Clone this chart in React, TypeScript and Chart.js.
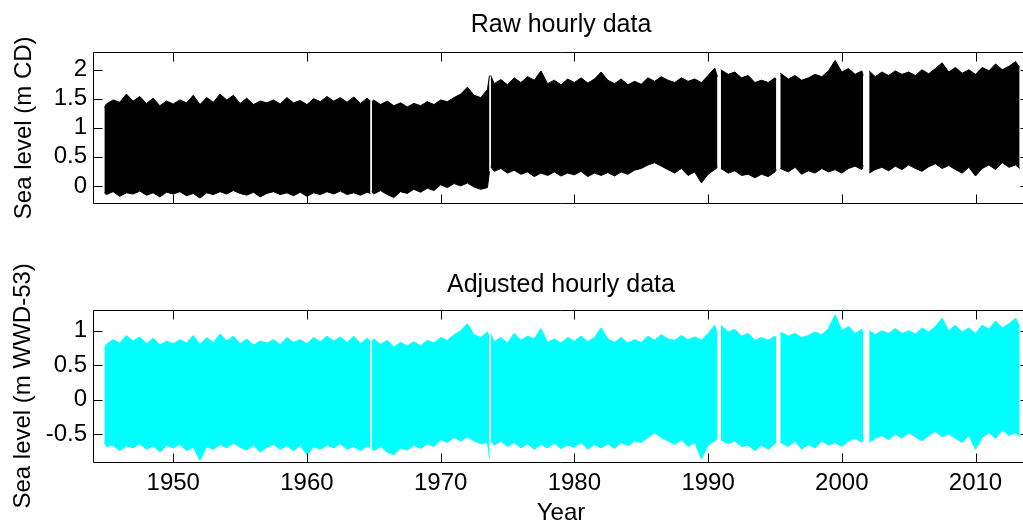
import React, { useEffect, useRef } from 'react';
import { Chart, registerables } from 'chart.js';

Chart.register(...registerables);

// Sample times (decimal years) of the envelope readings
const years: number[] = [
  // 1944.85 – 1964.75
  1944.85, 1945, 1945.5, 1946, 1946.5, 1947, 1947.5, 1948, 1948.5, 1949, 1949.5,
  1950, 1950.5, 1951, 1951.5, 1952, 1952.5, 1953, 1953.5, 1954, 1954.5,
  1955, 1955.5, 1956, 1956.5, 1957, 1957.5, 1958, 1958.5, 1959, 1959.5,
  1960, 1960.5, 1961, 1961.5, 1962, 1962.5, 1963, 1963.5, 1964, 1964.5, 1964.75,
  // 1964.85 – 1973.65
  1964.85, 1965, 1965.5, 1966, 1966.5, 1967, 1967.5, 1968, 1968.5, 1969, 1969.5,
  1970, 1970.5, 1971, 1971.5, 1972, 1972.5, 1973, 1973.5, 1973.65,
  // 1973.75 – 1990.7
  1973.75, 1974, 1974.5, 1975, 1975.5, 1976, 1976.5, 1977, 1977.5, 1978, 1978.5,
  1979, 1979.5, 1980, 1980.5, 1981, 1981.5, 1982, 1982.5, 1983, 1983.5,
  1984, 1984.5, 1985, 1985.5, 1986, 1986.5, 1987, 1987.5, 1988, 1988.5,
  1989, 1989.5, 1990, 1990.5, 1990.7,
  // 1990.95 – 1995.1
  1990.95, 1991.5, 1992, 1992.5, 1993, 1993.5, 1994, 1994.5, 1995, 1995.1,
  // 1995.4 – 2001.6
  1995.4, 1996, 1996.5, 1997, 1997.5, 1998, 1998.5, 1999, 1999.5, 2000, 2000.5,
  2001, 2001.5, 2001.6,
  // 2002.05 – 2013.3
  2002.05, 2002.5, 2003, 2003.5, 2004, 2004.5, 2005, 2005.5, 2006, 2006.5,
  2007, 2007.5, 2008, 2008.5, 2009, 2009.5, 2010, 2010.5, 2011, 2011.5,
  2012, 2012.5, 2013, 2013.3,
];

// Times of the data gaps (no record)
const gapYears: number[] = [1964.8, 1973.7, 1990.82, 1995.25, 2001.8];

// Raw hourly data: upper and lower envelope (m CD)
const rawHigh: number[] = [
  1.35, 1.41, 1.48, 1.44, 1.58, 1.46, 1.54, 1.42, 1.51, 1.38, 1.46, 1.41, 1.48, 1.43, 1.56, 1.40,
  1.52, 1.44, 1.58, 1.48, 1.56, 1.42, 1.51, 1.40, 1.46, 1.43, 1.48, 1.41, 1.52, 1.43, 1.47, 1.40,
  1.50, 1.45, 1.54, 1.46, 1.52, 1.44, 1.53, 1.42, 1.51, 1.46,
  1.45, 1.48, 1.40, 1.46, 1.38, 1.43, 1.36, 1.42, 1.38, 1.45, 1.40, 1.48, 1.45, 1.52, 1.58, 1.70,
  1.56, 1.52, 1.66, 1.90,
  1.90, 1.76, 1.83, 1.74, 1.86, 1.78, 1.88, 1.82, 1.98, 1.76, 1.82, 1.74, 1.84, 1.78, 1.86, 1.77,
  1.84, 1.96, 1.82, 1.76, 1.84, 1.74, 1.80, 1.75, 1.86, 1.80, 1.88, 1.82, 1.78, 1.86, 1.80, 1.84,
  1.78, 1.90, 2.03, 1.88,
  2.00, 1.92, 1.96, 1.86, 1.90, 1.78, 1.82, 1.78, 1.86, 1.84,
  1.94, 1.84, 1.90, 1.82, 1.86, 1.92, 1.88, 1.98, 2.16, 1.96, 2.02, 1.92, 1.98, 1.90,
  1.98, 1.88, 1.96, 1.90, 1.98, 1.92, 1.96, 1.90, 2.00, 1.93, 2.02, 2.12, 1.96, 2.04, 1.94, 2.00,
  1.92, 2.04, 1.98, 2.10, 2.00, 2.06, 2.14, 2.04,
];
const rawLow: number[] = [
  -0.12, -0.15, -0.10, -0.18, -0.12, -0.14, -0.09, -0.16, -0.12, -0.19, -0.11, -0.14, -0.10, -0.17,
  -0.13, -0.21, -0.12, -0.15, -0.10, -0.14, -0.08, -0.13, -0.16, -0.11, -0.19, -0.13, -0.10, -0.15,
  -0.12, -0.17, -0.11, -0.18, -0.12, -0.15, -0.10, -0.14, -0.09, -0.15, -0.12, -0.16, -0.11, -0.13,
  -0.10, -0.14, -0.08, -0.15, -0.20, -0.10, -0.13, -0.06, -0.11, -0.04, -0.08, 0.02, -0.03, 0.04,
  0.00, 0.05, -0.02, -0.06, -0.03, 0.25,
  0.33, 0.25, 0.30, 0.22, 0.27, 0.20, 0.24, 0.16, 0.22, 0.18, 0.24, 0.17, 0.22, 0.19, 0.25, 0.16,
  0.22, 0.18, 0.23, 0.17, 0.24, 0.20, 0.27, 0.30, 0.36, 0.40, 0.34, 0.28, 0.22, 0.30, 0.18, 0.24,
  0.05, 0.20, 0.28, 0.32,
  0.30, 0.22, 0.26, 0.18, 0.20, 0.14, 0.20, 0.16, 0.24, 0.28,
  0.30, 0.24, 0.32, 0.20, 0.26, 0.22, 0.30, 0.24, 0.28, 0.22, 0.30, 0.34, 0.28, 0.35,
  0.22, 0.28, 0.32, 0.26, 0.34, 0.28, 0.36, 0.30, 0.25, 0.33, 0.38, 0.30, 0.35, 0.28, 0.22, 0.32,
  0.17, 0.30, 0.36, 0.28, 0.40, 0.32, 0.36, 0.30,
];

// Adjusted hourly data: upper and lower envelope (m WWD-53)
const adjHigh: number[] = [
  0.74, 0.80, 0.87, 0.82, 0.93, 0.85, 0.91, 0.81, 0.89, 0.79, 0.85, 0.81, 0.87, 0.82, 0.93, 0.80,
  0.90, 0.83, 0.95, 0.85, 0.92, 0.81, 0.88, 0.79, 0.85, 0.82, 0.87, 0.80, 0.90, 0.83, 0.87, 0.81,
  0.90, 0.84, 0.92, 0.85, 0.91, 0.83, 0.92, 0.81, 0.89, 0.85,
  0.84, 0.88, 0.80, 0.86, 0.76, 0.83, 0.78, 0.84, 0.78, 0.86, 0.82, 0.90, 0.86, 0.94, 1.00, 1.10,
  0.94, 0.90, 0.98, 0.90,
  0.95, 0.84, 0.90, 0.82, 0.96, 0.86, 0.92, 0.88, 1.03, 0.83, 0.88, 0.82, 0.90, 0.85, 0.92, 0.84,
  0.90, 1.04, 0.88, 0.83, 0.90, 0.82, 0.87, 0.83, 0.92, 0.86, 0.94, 0.88, 0.86, 0.93, 0.87, 0.91,
  0.86, 0.96, 1.08, 0.94,
  1.08, 0.98, 1.02, 0.92, 0.96, 0.86, 0.90, 0.86, 0.92, 0.90,
  0.98, 0.92, 0.96, 0.90, 0.93, 0.98, 0.94, 1.03, 1.23, 1.00, 1.06, 0.96, 1.02, 0.96,
  1.00, 0.94, 1.00, 0.96, 1.03, 0.96, 1.00, 0.95, 1.04, 0.98, 1.06, 1.18, 1.00, 1.08, 0.98, 1.04,
  0.96, 1.08, 1.02, 1.14, 1.04, 1.10, 1.18, 1.06,
];
const adjLow: number[] = [
  -0.62, -0.68, -0.66, -0.74, -0.67, -0.70, -0.64, -0.72, -0.67, -0.76, -0.66, -0.70, -0.65, -0.74,
  -0.69, -0.88, -0.68, -0.72, -0.65, -0.70, -0.63, -0.69, -0.73, -0.66, -0.76, -0.69, -0.65, -0.72,
  -0.67, -0.74, -0.66, -0.80, -0.68, -0.72, -0.66, -0.70, -0.64, -0.72, -0.68, -0.74, -0.67, -0.70,
  -0.70, -0.74, -0.68, -0.76, -0.80, -0.70, -0.73, -0.66, -0.71, -0.64, -0.68, -0.58, -0.62, -0.55,
  -0.60, -0.54, -0.60, -0.64, -0.62, -0.84,
  -0.60, -0.66, -0.60, -0.68, -0.62, -0.70, -0.64, -0.72, -0.65, -0.70, -0.63, -0.71, -0.66, -0.69,
  -0.62, -0.72, -0.65, -0.70, -0.64, -0.71, -0.62, -0.67, -0.60, -0.62, -0.55, -0.48, -0.55, -0.60,
  -0.65, -0.58, -0.68, -0.62, -0.86, -0.66, -0.60, -0.56,
  -0.58, -0.64, -0.60, -0.68, -0.66, -0.74, -0.66, -0.72, -0.64, -0.60,
  -0.62, -0.68, -0.60, -0.72, -0.65, -0.70, -0.60, -0.66, -0.62, -0.68, -0.60, -0.56, -0.62, -0.55,
  -0.62, -0.56, -0.52, -0.58, -0.50, -0.56, -0.48, -0.54, -0.60, -0.52, -0.46, -0.54, -0.50, -0.56,
  -0.62, -0.52, -0.72, -0.55, -0.48, -0.56, -0.44, -0.52, -0.48, -0.54,
];

const xTicks: number[] = [1950, 1960, 1970, 1980, 1990, 2000, 2010];
const rawYTicks: number[] = [0, 0.5, 1, 1.5, 2];
const adjYTicks: number[] = [-0.5, 0, 0.5, 1];
const xRange: number[] = [1944, 2014];
const rawYRange: number[] = [-0.3, 2.3];
const adjYRange: number[] = [-0.9, 1.3];

const FAMILY = "'Liberation Sans', Arial, Helvetica, sans-serif";

function buildSeries(values: number[]) {
  const pts: { x: number; y: number | null }[] = years.map((x, i) => ({ x, y: values[i] }));
  gapYears.forEach((g) => pts.push({ x: g, y: null }));
  pts.sort((a, b) => a.x - b.x);
  return pts;
}

interface PanelOpts {
  title: string;
  titlePadTop: number;
  titlePadBottom: number;
  yLabel: string;
  yLabelPad: number;
  high: number[];
  low: number[];
  color: string;
  yRange: number[];
  yTicks: number[];
  showX: boolean;
  xHeight: number;
}

function makeConfig(o: PanelOpts): any {
  const framePlugin = {
    id: 'frame',
    afterDraw(chart: any) {
      const { ctx, chartArea } = chart;
      const xs = chart.scales.x;
      const ys = chart.scales.y;
      const L = Math.round(chartArea.left) + 0.5;
      const R = Math.round(chartArea.right) + 0.5;
      const T = Math.round(chartArea.top) + 0.5;
      const B = Math.round(chartArea.bottom) + 0.5;
      const tl = 9;
      ctx.save();
      ctx.strokeStyle = '#000000';
      ctx.lineWidth = 1;
      ctx.beginPath();
      ctx.rect(L, T, R - L, B - T);
      xTicks.forEach((v) => {
        const px = Math.round(xs.getPixelForValue(v)) + 0.5;
        ctx.moveTo(px, B);
        ctx.lineTo(px, B - tl);
        ctx.moveTo(px, T);
        ctx.lineTo(px, T + tl);
      });
      o.yTicks.forEach((v) => {
        const py = Math.round(ys.getPixelForValue(v)) + 0.5;
        ctx.moveTo(L, py);
        ctx.lineTo(L + tl, py);
        ctx.moveTo(R, py);
        ctx.lineTo(R - tl, py);
      });
      ctx.stroke();
      ctx.restore();
    },
  };

  return {
    type: 'line',
    data: {
      datasets: [
        {
          label: 'high',
          data: buildSeries(o.high),
          borderColor: o.color,
          backgroundColor: o.color,
          borderWidth: 1,
          pointRadius: 0,
          tension: 0,
          spanGaps: false,
          fill: '+1',
        },
        {
          label: 'low',
          data: buildSeries(o.low),
          borderColor: o.color,
          backgroundColor: o.color,
          borderWidth: 1,
          pointRadius: 0,
          tension: 0,
          spanGaps: false,
          fill: false,
        },
      ],
    },
    options: {
      animation: false,
      responsive: false,
      devicePixelRatio: 1,
      layout: { padding: { left: 0, right: 11, top: 0, bottom: 0 }, autoPadding: false },
      plugins: {
        legend: { display: false },
        tooltip: { enabled: false },
        title: {
          display: true,
          text: o.title,
          fullSize: false,
          color: '#000000',
          font: { family: FAMILY, size: 25, weight: 'normal' },
          padding: { top: o.titlePadTop, bottom: o.titlePadBottom },
        },
      },
      scales: {
        x: {
          type: 'linear',
          min: xRange[0],
          max: xRange[1],
          grid: { display: false, drawTicks: false },
          border: { display: false },
          afterBuildTicks: (s: any) => {
            s.ticks = xTicks.map((v) => ({ value: v }));
          },
          afterFit: (s: any) => {
            s.height = o.xHeight;
          },
          ticks: {
            display: o.showX,
            autoSkip: false,
            maxRotation: 0,
            padding: 7.3,
            color: '#000000',
            font: { family: FAMILY, size: 24 },
            callback: (v: any) => String(v),
          },
          title: {
            display: o.showX,
            text: 'Year',
            color: '#000000',
            font: { family: FAMILY, size: 24 },
            padding: { top: 0, bottom: 0 },
          },
        },
        y: {
          type: 'linear',
          min: o.yRange[0],
          max: o.yRange[1],
          grid: { display: false, drawTicks: false },
          border: { display: false },
          afterBuildTicks: (s: any) => {
            s.ticks = o.yTicks.map((v) => ({ value: v }));
          },
          afterFit: (s: any) => {
            s.width = 93;
          },
          ticks: {
            padding: 6,
            color: '#000000',
            font: { family: FAMILY, size: 24 },
            callback: (v: any) => String(v),
          },
          title: {
            display: true,
            text: o.yLabel,
            color: '#000000',
            font: { family: FAMILY, size: 24 },
            padding: { top: o.yLabelPad, bottom: 0 },
          },
        },
      },
    },
    plugins: [framePlugin],
  };
}

export default function App() {
  const topRef = useRef<HTMLCanvasElement>(null);
  const botRef = useRef<HTMLCanvasElement>(null);

  useEffect(() => {
    const c1 = new Chart(
      topRef.current as HTMLCanvasElement,
      makeConfig({
        title: 'Raw hourly data',
        titlePadTop: 10,
        titlePadBottom: 12.3,
        yLabel: 'Sea level (m CD)',
        yLabelPad: 10.3,
        high: rawHigh,
        low: rawLow,
        color: '#000000',
        yRange: rawYRange,
        yTicks: rawYTicks,
        showX: false,
        xHeight: 20.7,
      })
    );
    const c2 = new Chart(
      botRef.current as HTMLCanvasElement,
      makeConfig({
        title: 'Adjusted hourly data',
        titlePadTop: 19.7,
        titlePadBottom: 10.3,
        yLabel: 'Sea level (m WWD-53)',
        yLabelPad: 8.8,
        high: adjHigh,
        low: adjLow,
        color: '#00FFFF',
        yRange: adjYRange,
        yTicks: adjYTicks,
        showX: true,
        xHeight: 66.3,
      })
    );
    return () => {
      c1.destroy();
      c2.destroy();
    };
  }, []);

  return (
    <div
      style={{
        position: 'fixed',
        left: 0,
        top: 0,
        width: 1023,
        height: 524,
        overflow: 'hidden',
        background: '#ffffff',
      }}
    >
      <canvas ref={topRef} width={1040} height={224} style={{ position: 'absolute', left: 0, top: 0 }} />
      <canvas ref={botRef} width={1040} height={278} style={{ position: 'absolute', left: 0, top: 250 }} />
    </div>
  );
}
